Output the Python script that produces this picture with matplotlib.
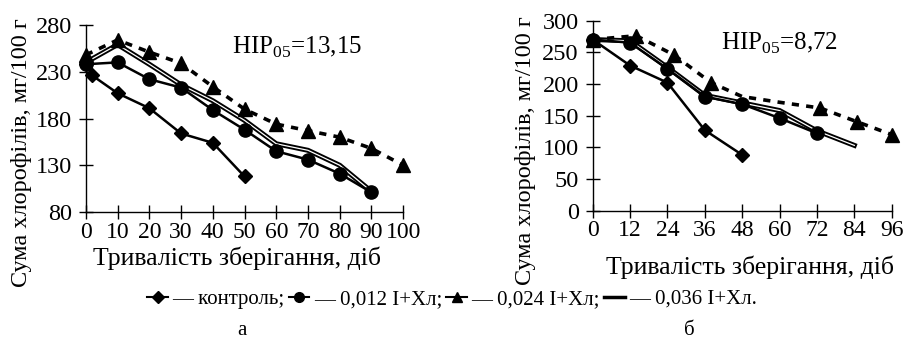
import matplotlib
matplotlib.use('Agg')
import matplotlib.pyplot as plt
from matplotlib.lines import Line2D

plt.rcParams['font.family'] = ['Liberation Serif', 'DejaVu Serif']
plt.rcParams['mathtext.fontset'] = 'custom'
plt.rcParams['mathtext.rm'] = 'Liberation Serif'

# panel a
a_ctrl_x = [0, 2, 10, 20, 30, 40, 50]
a_ctrl_y = [238, 226, 207, 191, 164, 154, 118]
a_012_x = [0, 10, 20, 30, 40, 50, 60, 70, 80, 90]
a_012_y = [238, 240, 222, 213, 189, 168, 145, 136, 121, 101]
a_024_x = [0, 10, 20, 30, 40, 50, 60, 70, 80, 90, 100]
a_024_y = [248, 264, 251, 239, 214, 190, 174, 167, 160, 148, 130]
a_036_x = [0, 10, 20, 30, 40, 50, 60, 70, 80, 90]
a_036_y = [240, 259, 238, 216, 199, 178, 153, 146, 130, 102]

# panel b
b_ctrl_x = [0, 12, 24, 36, 48]
b_ctrl_y = [270, 229, 202, 127, 88]
b_012_x = [0, 12, 24, 36, 48, 60, 72]
b_012_y = [270, 265, 224, 180, 168, 146, 122]
b_024_x = [0, 14, 26, 38, 48, 60, 73, 85, 96]
b_024_y = [270, 276, 246, 202, 180, 171, 162, 140, 120]
b_024_marks = [0, 1, 2, 3, 6, 7, 8]
b_036_x = [0, 12, 24, 36, 48, 60, 72, 84]
b_036_y = [270, 268, 226, 182, 170, 158, 126, 103]

xlabel = 'Тривалість зберігання, діб'
ylabel = 'Сума хлорофілів, мг/100 г'

fig = plt.figure(figsize=(9.04, 3.42), dpi=100)
ax1 = fig.add_axes([0.095, 0.380, 0.351, 0.547])
ax2 = fig.add_axes([0.6556, 0.384, 0.3308, 0.556])


def draw_panel(ax, ctrl, s012, s024, s036, marks024):
    ax.plot(*s036, color='black', lw=3.6, solid_joinstyle='miter', clip_on=False, zorder=2)
    ax.plot(*s036, color='white', lw=0.9, clip_on=False, zorder=2.1)
    ax.plot(*ctrl, color='black', lw=1.8, marker='D', ms=7.5, clip_on=False, zorder=3)
    ax.plot(*s012, color='black', lw=1.8, marker='o', ms=9.5, clip_on=False, zorder=3)
    ax.plot(*s024, color='black', lw=2.6, ls=(0, (2, 2)), marker='^', ms=9.5,
            markevery=marks024, clip_on=False, zorder=3)
    for side in ['top', 'right']:
        ax.spines[side].set_visible(False)
    ax.spines['left'].set_linewidth(1)
    ax.spines['bottom'].set_linewidth(1)
    ax.tick_params(direction='inout', length=10, width=1)
    ax.tick_params(axis='x', labelsize=17, pad=2)
    ax.tick_params(axis='y', labelsize=17.5, pad=5)
    ax.set_xlabel(xlabel, fontsize=18.5)
    ax.set_ylabel(ylabel, fontsize=17.5)


draw_panel(ax1, (a_ctrl_x, a_ctrl_y), (a_012_x, a_012_y), (a_024_x, a_024_y),
           (a_036_x, a_036_y), None)
ax1.set_xlim(0, 100)
ax1.set_ylim(80, 280)
ax1.set_xticks(range(0, 101, 10))
ax1.set_yticks([80, 130, 180, 230, 280])
ax1.text(0.46, 0.88, r'НІР$_{05}$=13,15', transform=ax1.transAxes, fontsize=18, va='center')
ax1.xaxis.set_label_coords(0.475, -0.185)
ax1.yaxis.set_label_coords(-0.17, 0.32)

draw_panel(ax2, (b_ctrl_x, b_ctrl_y), (b_012_x, b_012_y), (b_024_x, b_024_y),
           (b_036_x, b_036_y), b_024_marks)
ax2.set_xlim(0, 96)
ax2.set_ylim(0, 300)
ax2.set_xticks(range(0, 97, 12))
ax2.set_yticks(range(0, 301, 50))
ax2.text(0.43, 0.88, r'НІР$_{05}$=8,72', transform=ax2.transAxes, fontsize=18, va='center')
ax2.xaxis.set_label_coords(0.525, -0.235)
ax2.yaxis.set_label_coords(-0.19, 0.314)

handles = [
    Line2D([], [], color='black', lw=1.5, marker='D', ms=6),
    Line2D([], [], color='black', lw=1.5, marker='o', ms=7),
    Line2D([], [], color='black', lw=1.5, marker='^', ms=7),
    Line2D([], [], color='black', lw=2.5),
]
labels = ['— контроль;', '— 0,012 І+Хл;', '— 0,024 І+Хл;', '— 0,036 І+Хл.']
fig.legend(handles, labels, loc='center', bbox_to_anchor=(0.5, 0.125), ncol=4,
           frameon=False, fontsize=15, handlelength=1.0, handletextpad=0.2,
           columnspacing=0.2, borderaxespad=0)

fig.text(0.268, 0.035, 'а', fontsize=15, ha='center', va='center')
fig.text(0.763, 0.035, 'б', fontsize=15, ha='center', va='center')

fig.savefig('out.png', dpi=100)
